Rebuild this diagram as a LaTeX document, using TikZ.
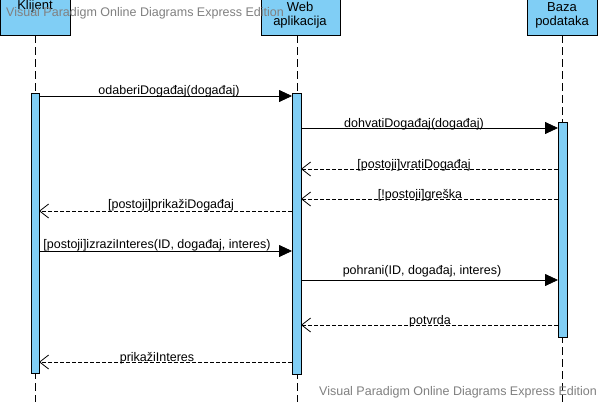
\documentclass[tikz,border=0pt]{standalone}
\usepackage{fontspec}
\setmainfont{Liberation Sans}
\usetikzlibrary{arrows.meta}
\definecolor{boxblue}{RGB}{128,206,245}
\definecolor{wm}{RGB}{128,128,128}
\tikzset{
  headbox/.style={draw=black, line width=1pt, fill=boxblue},
  actbar/.style={draw=black, line width=0.8pt, fill=boxblue},
  lifeline/.style={draw=black, line width=0.7pt, dash pattern=on 8pt off 4pt},
  callmsg/.style={draw=black, line width=0.8pt, -{Triangle[length=13pt,width=12pt]}},
  retmsg/.style={draw=black, line width=0.8pt, dash pattern=on 4pt off 2pt, -{Straight Barb[length=9pt,width=14pt,line width=0.8pt]}},
  msglabel/.style={font=\fontsize{12.5pt}{14pt}\selectfont, text=black, inner sep=0pt, anchor=base},
  headlabel/.style={font=\fontsize{13pt}{15pt}\selectfont, text=black, inner sep=0pt, align=center},
  watermark/.style={font=\fontsize{12.5pt}{14pt}\selectfont, text=wm, inner sep=0pt, anchor=base west}
}
\begin{document}
\begin{tikzpicture}[x=1pt,y=-1pt]
\useasboundingbox (0,0) rectangle (600,402);
\clip (0,0) rectangle (600,402);
\fill[white] (0,0) rectangle (600,402);
% lifelines
\coordinate (kTop) at (35,35);
\coordinate (kBot) at (35,402);
\coordinate (wTop) at (297,35);
\coordinate (wBot) at (297,402);
\coordinate (bTop) at (562,35);
\coordinate (bBot) at (562,402);
\draw[lifeline] (kTop) -- (kBot);
\draw[lifeline] (wTop) -- (wBot);
\draw[lifeline] (bTop) -- (bBot);
% head boxes
\path[headbox] (0,-8) rectangle (70,35);
\path[headbox] (261,-8) rectangle (340,35);
\path[headbox] (527,-8) rectangle (597,35);
\node[headlabel] (klijent) at (35,6) {Klijent};
\node[headlabel] (webA) at (300,7) {Web};
\node[headlabel] (webB) at (300,22) {aplikacija};
\node[headlabel] (bazaA) at (562,7) {Baza};
\node[headlabel] (bazaB) at (562,22) {podataka};
% activation bars
\path[actbar] (31,93) rectangle (39,373);
\path[actbar] (292,93) rectangle (301,374);
\path[actbar] (558,122) rectangle (567,337);
% message endpoints
\coordinate (k1) at (39,96);   \coordinate (w1) at (292,96);
\coordinate (w2) at (301,128); \coordinate (b2) at (558,128);
\coordinate (b3) at (558,169); \coordinate (w3) at (301,169);
\coordinate (b4) at (558,199); \coordinate (w4) at (301,199);
\coordinate (w5) at (292,211); \coordinate (k5) at (39,211);
\coordinate (k6) at (39,251);  \coordinate (w6) at (292,251);
\coordinate (w7) at (301,280); \coordinate (b7) at (558,280);
\coordinate (b8) at (558,325); \coordinate (w8) at (301,325);
\coordinate (w9) at (292,362); \coordinate (k9) at (39,362);
% messages
\draw[callmsg] (k1) -- (w1);
\draw[callmsg] (w2) -- (b2);
\draw[retmsg] (b3) -- (w3);
\draw[retmsg] (b4) -- (w4);
\draw[retmsg] (w5) -- (k5);
\draw[callmsg] (k6) -- (w6);
\draw[callmsg] (w7) -- (b7);
\draw[retmsg] (b8) -- (w8);
\draw[retmsg] (w9) -- (k9);
% labels
\node[msglabel] (l1) at (169,94) {odaberiDogađaj(događaj)};
\node[msglabel] (l2) at (414,127) {dohvatiDogađaj(događaj)};
\node[msglabel] (l3) at (414,168) {[postoji]vratiDogađaj};
\node[msglabel] (l4) at (420,198) {[!postoji]greška};
\node[msglabel] (l5) at (171,208) {[postoji]prikažiDogađaj};
\node[msglabel] (l6) at (157,248) {[postoji]izraziInteres(ID, događaj, interes)};
\node[msglabel] (l7) at (422,274) {pohrani(ID, događaj, interes)};
\node[msglabel] (l8) at (430,324) {potvrda};
\node[msglabel] (l9) at (157,361) {prikažiInteres};
% watermarks
\node[watermark] (wm1) at (6,16) {Visual Paradigm Online Diagrams Express Edition};
\node[watermark] (wm2) at (319,395) {Visual Paradigm Online Diagrams Express Edition};
\end{tikzpicture}
\end{document}
